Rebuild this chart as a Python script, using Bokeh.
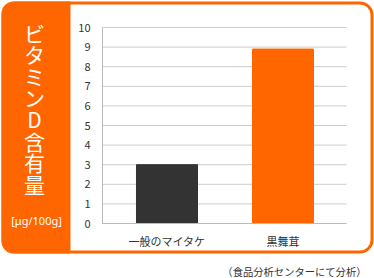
from bokeh.plotting import figure
from bokeh.models import Range1d, FixedTicker, BoxAnnotation, Label, ColumnDataSource
from bokeh.embed import file_html
from bokeh.resources import INLINE

categories = ["一般のマイタケ", "黒舞茸"]
values = [3.0, 8.9]
colors = ["#333333", "#FF6600"]
y_ticks = [0, 1, 2, 3, 4, 5, 6, 7, 8, 9, 10]
title_text = "ビタミンD含有量"
unit_text = "[μg/100g]"
note_text = "（食品分析センターにて分析）"

ORANGE = "#FF6600"
FONT = "Noto Sans CJK JP"
W, H = 374, 278

# pixel layout of the plotting area (frame covers whole canvas)
PX_CAT = 116.0      # pixels per category
PX_X0 = 108.5       # pixel of category start
PX_Y0 = 223.0       # pixel of value 0
PX_UNIT = 19.6      # pixels per value unit
AX_L, AX_R = 102.0, 346.0

def dx(px):
    return (px - PX_X0) / PX_CAT

def dy(py):
    return (PX_Y0 - py) / PX_UNIT

p = figure(width=W, height=H, output_backend="svg", toolbar_location=None,
           x_range=Range1d(dx(0), dx(W)), y_range=Range1d(dy(H), dy(0)),
           min_border=0)
p.background_fill_color = "white"
p.border_fill_color = "white"
p.outline_line_color = None
p.xgrid.visible = False
p.ygrid.visible = False

xpos = [i + 0.5 for i in range(len(categories))]

# gridlines
p.segment(x0=dx(AX_L), x1=dx(AX_R), y0="y", y1="y",
          source=ColumnDataSource(dict(y=y_ticks)), line_color="#cccccc", line_width=1)

src = ColumnDataSource(dict(x=xpos, val=values, col=colors))
p.vbar(x="x", top="val", width=0.526, color="col", source=src)

p.xaxis.ticker = FixedTicker(ticks=xpos)
p.xaxis.major_label_overrides = {x: c for x, c in zip(xpos, categories)}
p.xaxis.fixed_location = 0
p.xaxis.bounds = (dx(AX_L), dx(AX_R))
p.yaxis.ticker = FixedTicker(ticks=y_ticks)
p.yaxis.fixed_location = dx(AX_L)
p.yaxis.bounds = (0, 10)
for ax in (p.xaxis[0], p.yaxis[0]):
    ax.axis_line_color = "#bbbbbb"
    ax.major_tick_line_color = None
    ax.minor_tick_line_color = None
    ax.major_label_text_font = FONT
    ax.major_label_text_color = "#333333"
    ax.major_label_text_font_size = "11px"
p.yaxis.major_label_standoff = 6
p.xaxis.major_label_standoff = 3

# left orange panel
p.add_layout(BoxAnnotation(left=1, right=70, top=1, bottom=253,
                           left_units="canvas", right_units="canvas",
                           top_units="canvas", bottom_units="canvas",
                           fill_color=ORANGE, fill_alpha=1, line_color=None,
                           border_radius=(12, 0, 0, 12), level="underlay"))
# outer frame
p.add_layout(BoxAnnotation(left=2.5, right=371.5, top=2.5, bottom=251.5,
                           left_units="canvas", right_units="canvas",
                           top_units="canvas", bottom_units="canvas",
                           fill_alpha=0, line_color=ORANGE, line_alpha=1, line_width=3,
                           border_radius=12))

p.add_layout(Label(x=34, y=17, x_units="canvas", y_units="canvas",
                   text="\n".join(title_text), text_color="white",
                   text_font=FONT, text_font_size="21px", text_align="center",
                   text_baseline="top", text_line_height=0.72))
p.add_layout(Label(x=36, y=219.5, x_units="canvas", y_units="canvas",
                   text=unit_text, text_color="white",
                   text_font="Noto Sans", text_font_size="11px", text_align="center",
                   text_baseline="middle"))
p.add_layout(Label(x=366, y=271, x_units="canvas", y_units="canvas",
                   text=note_text, text_color="#333333",
                   text_font=FONT, text_font_size="10.3px", text_align="right",
                   text_baseline="middle"))

open("out.html", "w").write(file_html(p, INLINE))
